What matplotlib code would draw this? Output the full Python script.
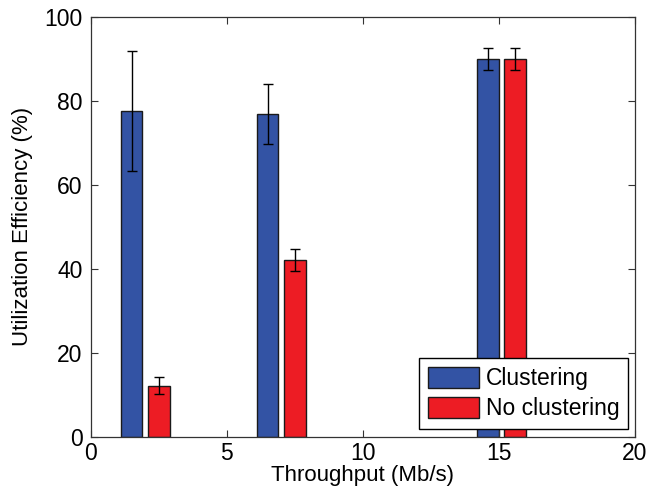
import numpy as np
import matplotlib
matplotlib.use('Agg')
import matplotlib.pyplot as plt

# values
throughput = [2, 7, 15.1]
clustering = [77.6, 76.9, 90.0]
clustering_err = [14.4, 7.2, 2.7]
no_clustering = [12.2, 42.1, 90.0]
no_clustering_err = [2.1, 2.7, 2.7]
labels = ['Clustering', 'No clustering']

plt.rcParams['font.family'] = ['Liberation Sans', 'DejaVu Sans']

fig = plt.figure(figsize=(6.71, 4.99), dpi=100)
ax = fig.add_axes([0.1352, 0.1248, 0.8111, 0.8411])

x = np.array(throughput)
w = 0.8
err_kw = dict(ecolor='black', elinewidth=1.0, capsize=3.5, capthick=1.0)
ax.bar(x - 0.5, clustering, w, yerr=clustering_err, color='#3353a4',
       edgecolor='#1a1a1a', linewidth=1.0, label=labels[0], error_kw=err_kw)
ax.bar(x + 0.5, no_clustering, w, yerr=no_clustering_err, color='#ed1c24',
       edgecolor='#1a1a1a', linewidth=1.0, label=labels[1], error_kw=err_kw)

ax.set_xlim(0, 20)
ax.set_ylim(0, 100)
ax.set_xticks([0, 5, 10, 15, 20])
ax.set_yticks([0, 20, 40, 60, 80, 100])
ax.tick_params(direction='in', length=5, width=0.8, labelsize=16.5,
               top=True, right=True, color='#333333')
ax.tick_params(axis='x', pad=4)
ax.tick_params(axis='y', pad=6)
for s in ax.spines.values():
    s.set_color('#333333')
    s.set_linewidth(0.9)

ax.set_xlabel('Throughput (Mb/s)', fontsize=16, labelpad=0)
ax.set_ylabel('Utilization Efficiency (%)', fontsize=16, labelpad=8)

leg = ax.legend(loc='lower right', bbox_to_anchor=(0.988, 0.0176),
                borderaxespad=0, fontsize=16.5, fancybox=False,
                edgecolor='black', framealpha=1, handlelength=2.2,
                handleheight=1.0, handletextpad=0.3, borderpad=0.4,
                labelspacing=0.3)
leg.get_frame().set_linewidth(1.0)

fig.savefig('out.png', dpi=100)
